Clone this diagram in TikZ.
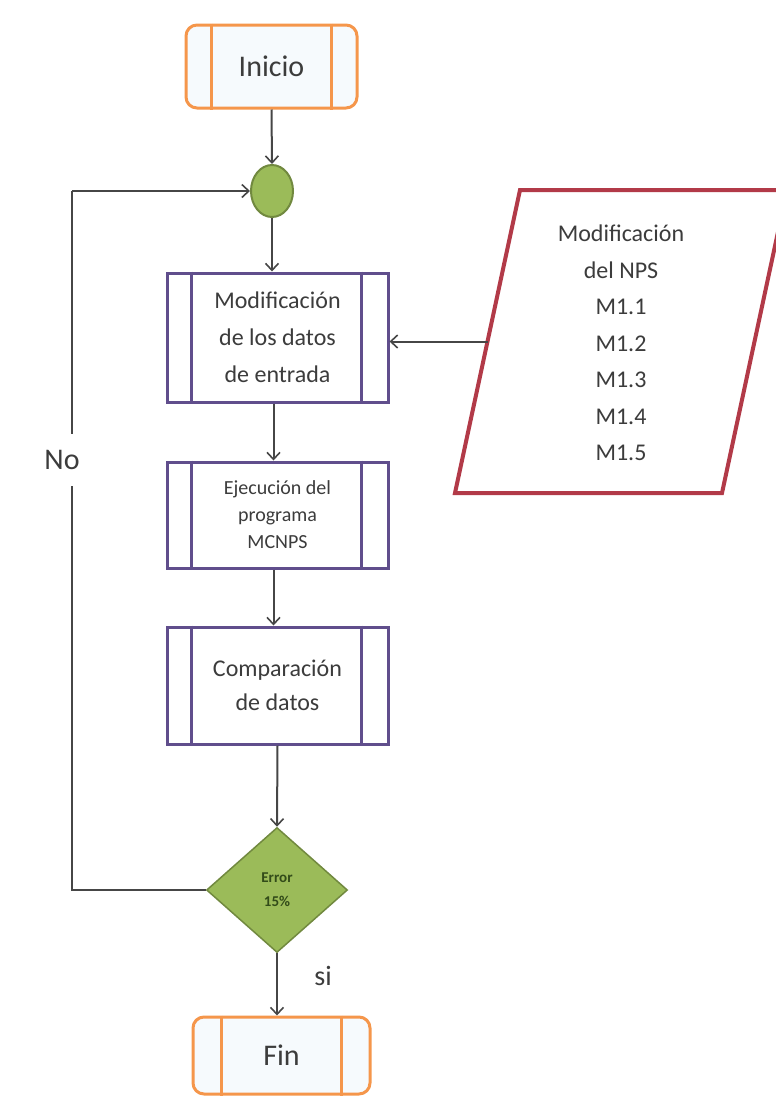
\documentclass[tikz,border=0pt]{standalone}
\usepackage{fontspec}
\setmainfont{Carlito}
\usetikzlibrary{arrows.meta,shapes.geometric,calc}

\definecolor{txt}{RGB}{60,60,60}
\definecolor{termline}{RGB}{245,150,75}
\definecolor{termfill}{RGB}{246,250,253}
\definecolor{procline}{RGB}{96,78,140}
\definecolor{gfill}{RGB}{155,187,89}
\definecolor{gline}{RGB}{113,137,63}
\definecolor{gtext}{RGB}{50,75,25}
\definecolor{ioline}{RGB}{178,58,72}
\definecolor{wire}{RGB}{70,70,70}

\tikzset{
  terminal/.style={draw=termline, line width=3pt, fill=termfill, rounded corners=11pt,
    rectangle, text=txt, font=\fontsize{30}{36}\selectfont},
  procbox/.style={draw=procline, line width=3pt, fill=white, rectangle,
    minimum width=221pt, text=txt, align=center},
  joint/.style={ellipse, draw=gline, line width=2pt, fill=gfill,
    minimum width=42pt, minimum height=52pt, inner sep=0pt},
  decision/.style={diamond, draw=gline, line width=1.5pt, fill=gfill,
    minimum width=141pt, minimum height=125pt, inner sep=0pt, align=center,
    text=gtext, font=\fontsize{15}{24}\selectfont\bfseries},
  arr/.style={draw=wire, line width=2pt, -{Straight Barb[length=7pt,width=13pt,line width=1.6pt]}},
  wire/.style={draw=wire, line width=2pt},
  lbl/.style={text=txt, font=\fontsize{30}{36}\selectfont}
}

\begin{document}
\begin{tikzpicture}[x=1pt,y=-1pt]
\useasboundingbox (0,0) rectangle (776,1098);

% terminals
\node[terminal, minimum width=171pt, minimum height=83pt] (inicio) at (271.5,66.5) {Inicio};
\draw[termline, line width=3pt] ([xshift=27pt]inicio.north west) -- ([xshift=27pt]inicio.south west)
  ([xshift=-27pt]inicio.north east) -- ([xshift=-27pt]inicio.south east);

\node[terminal, minimum width=177pt, minimum height=77pt] (fin) at (281.5,1055.5) {Fin};
\draw[termline, line width=3pt] ([xshift=30pt]fin.north west) -- ([xshift=30pt]fin.south west)
  ([xshift=-30pt]fin.north east) -- ([xshift=-30pt]fin.south east);

% junction
\node[joint] (circ) at (272,191) {};

% processes
\node[procbox, minimum height=129pt, font=\fontsize{24}{37}\selectfont] (box1) at (277.5,337.5)
  {Modificación\\de los datos\\de entrada};
\node[procbox, minimum height=106pt, font=\fontsize{20}{27}\selectfont] (box2) at (277.5,515)
  {Ejecución del\\programa\\MCNPS};
\node[procbox, minimum height=117pt, font=\fontsize{24}{34}\selectfont] (box3) at (277.5,685.5)
  {Comparación\\de datos};
\foreach \b in {box1,box2,box3}{
  \draw[procline, line width=3pt] ([xshift=26pt]\b.north west) -- ([xshift=26pt]\b.south west)
    ([xshift=-28pt]\b.north east) -- ([xshift=-28pt]\b.south east);
}

% decision
\node[decision] (dia) at (277,890) {Error\\15\%};

% data input
\coordinate (ptl) at (520,190);
\coordinate (ptr) at (787,190);
\coordinate (pbr) at (722,493);
\coordinate (pbl) at (455,493);
\draw[ioline, line width=4pt, fill=white, line join=miter] (ptl) -- (ptr) -- (pbr) -- (pbl) -- cycle;
\node[text=txt, align=center, font=\fontsize{24}{36.5}\selectfont] (nps) at (621,343)
  {Modificación\\del NPS\\M1.1\\M1.2\\M1.3\\M1.4\\M1.5};
\coordinate (npsin) at ($(pbl)!0.5!(ptl)$);

% connectors
\draw[arr] (inicio.south) -- (circ.north);
\draw[arr] (circ.south) -- (circ.south |- box1.north);
\draw[arr] ([xshift=-4pt]box1.south) -- ([xshift=-4pt]box2.north);
\draw[arr] ([xshift=-4pt]box2.south) -- ([xshift=-4pt]box3.north);
\draw[arr] (box3.south) -- (dia.north);
\draw[arr] (dia.south) -- (dia.south |- fin.north);
\draw[arr] (npsin) -- (npsin -| box1.east);

% loop back
\coordinate (loopb) at (72,890);
\coordinate (loopt) at (72,191);
\draw[wire, line join=miter] (dia.west) -- (loopb) -- (loopt);
\draw[arr] (loopt) -- (circ.west);

% labels
\node[lbl, fill=white, inner xsep=4pt, inner ysep=16pt] (no) at (62,460) {No};
\node[lbl, font=\fontsize{28}{34}\selectfont] (si) at (323,976) {si};
\end{tikzpicture}
\end{document}
